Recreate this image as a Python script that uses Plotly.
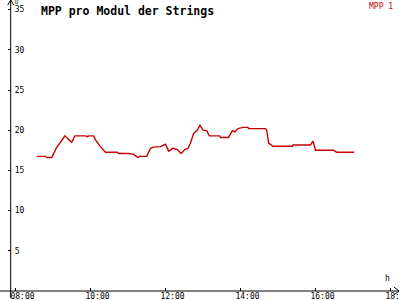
import plotly.graph_objects as go

# ---- data ----
times = ["08:34", "08:48", "08:50", "08:58", "08:59", "09:06", "09:12", "09:19", "09:23",
         "09:30", "09:35", "09:52", "09:55", "09:57", "10:05", "10:08", "10:16", "10:24",
         "10:43", "10:45", "11:01", "11:09", "11:16", "11:18", "11:30", "11:36", "11:41",
         "11:49", "11:52", "12:00", "12:05", "12:12", "12:19", "12:25", "12:31", "12:36",
         "12:40", "12:45", "12:51", "12:55", "13:00", "13:06", "13:09", "13:10", "13:27",
         "13:28", "13:41", "13:47", "13:51", "13:56", "14:04", "14:12", "14:13", "14:40",
         "14:42", "14:45", "14:52", "15:23", "15:24", "15:52", "15:56", "16:00", "16:29",
         "16:34", "17:02"]
values = [16.75, 16.75, 16.6, 16.6, 16.75, 17.9, 18.5, 19.3, 19.0,
          18.5, 19.3, 19.3, 19.2, 19.3, 19.3, 18.8, 17.95, 17.25,
          17.25, 17.1, 17.1, 17.0, 16.6, 16.75, 16.75, 17.75, 17.9,
          17.9, 17.95, 18.25, 17.4, 17.75, 17.6, 17.1, 17.6, 17.75,
          18.4, 19.6, 20.0, 20.65, 20.0, 19.95, 19.4, 19.3, 19.3,
          19.1, 19.1, 19.95, 19.8, 20.2, 20.35, 20.35, 20.2, 20.2,
          20.0, 18.4, 18.0, 18.0, 18.15, 18.15, 18.65, 17.5, 17.5,
          17.25, 17.25]
series_name = "MPP 1"
chart_title = "MPP pro Modul der Strings"
x_tick_vals = [8, 10, 12, 14, 16, 18]
x_tick_text = ["08:00", "10:00", "12:00", "14:00", "16:00", "18:00"]
y_tick_vals = [5, 10, 15, 20, 25, 30, 35]
y_unit = "U"
x_unit = "h"


def to_hours(s):
    h, m = s.split(":")
    return int(h) + int(m) / 60.0


x = [to_hours(t) for t in times]

# ---- layout constants (pixels) ----
W, H = 400, 300
X0_PX = 291          # pixel row of y = 0
PX_PER_U = 8.04
PX_PER_H = 37.5
T8_PX = 15.5         # pixel column of 08:00
YAX_PX = 10.7        # y axis position
FONT = "DejaVu Sans Mono"
RED = "#c80000"


def px_x(p):
    return p / W


def px_y(p):  # p = pixel from top
    return (H - p) / H


fig = go.Figure(go.Scatter(x=x, y=values, mode="lines", name=series_name,
                           line=dict(color=RED, width=1.4), showlegend=False))

shapes = [
    dict(type="line", xref="paper", yref="paper", x0=0, x1=px_x(398), y0=px_y(X0_PX), y1=px_y(X0_PX),
         line=dict(color="black", width=1)),
    dict(type="line", xref="paper", yref="paper", x0=px_x(YAX_PX), x1=px_x(YAX_PX),
         y0=px_y(298), y1=1, line=dict(color="black", width=1)),
    dict(type="path", xref="paper", yref="paper",
         path=f"M {px_x(YAX_PX-3)} {px_y(5)} L {px_x(YAX_PX)} {px_y(0)} L {px_x(YAX_PX+3)} {px_y(5)}",
         line=dict(color="black", width=1)),
    dict(type="path", xref="paper", yref="paper",
         path=f"M {px_x(394)} {px_y(X0_PX-4)} L {px_x(399)} {px_y(X0_PX)} L {px_x(394)} {px_y(X0_PX+4)}",
         line=dict(color="black", width=1)),
]

annotations = [
    dict(text=f"<b>{chart_title}</b>", xref="paper", yref="paper", x=px_x(39), y=px_y(2),
         xanchor="left", yanchor="top", showarrow=False,
         font=dict(family=FONT, size=11.5, color="black")),
    dict(text=series_name, xref="paper", yref="paper", x=px_x(395), y=px_y(0),
         xanchor="right", yanchor="top", showarrow=False,
         font=dict(family=FONT, size=8, color=RED)),
    dict(text=y_unit, xref="paper", yref="paper", x=px_x(13), y=px_y(7),
         xanchor="left", yanchor="bottom", showarrow=False,
         font=dict(family=FONT, size=5.5, color="black")),
    dict(text=x_unit, xref="paper", yref="paper", x=px_x(387), y=px_y(285),
         xanchor="center", yanchor="bottom", showarrow=False,
         font=dict(family=FONT, size=8, color="black")),
]

fig.update_layout(
    width=W, height=H,
    margin=dict(l=0, r=0, t=0, b=0, pad=0),
    paper_bgcolor="white", plot_bgcolor="white",
    shapes=shapes, annotations=annotations,
    xaxis=dict(range=[8 - T8_PX / PX_PER_H, 8 + (W - T8_PX) / PX_PER_H],
               anchor="free", position=(H - X0_PX) / H,
               showgrid=False, zeroline=False,
               showline=False, ticks="inside", ticklen=3, tickcolor="black",
               tickvals=x_tick_vals, ticktext=x_tick_text, ticklabelshift=7,
               ticklabelstandoff=-1, ticklabeloverflow="allow", automargin=False,
               tickfont=dict(family=FONT, size=8, color="black")),
    yaxis=dict(range=[-(H - X0_PX) / PX_PER_U, X0_PX / PX_PER_U],
               domain=[0, 1], anchor="free", position=YAX_PX / W,
               showgrid=False, zeroline=False, showline=False,
               ticks="outside", ticklen=3, tickcolor="black",
               ticklabelposition="inside", tickvals=y_tick_vals,
               ticklabeloverflow="allow", automargin=False,
               tickfont=dict(family=FONT, size=8, color="black")),
)

fig.write_html("out.html")
